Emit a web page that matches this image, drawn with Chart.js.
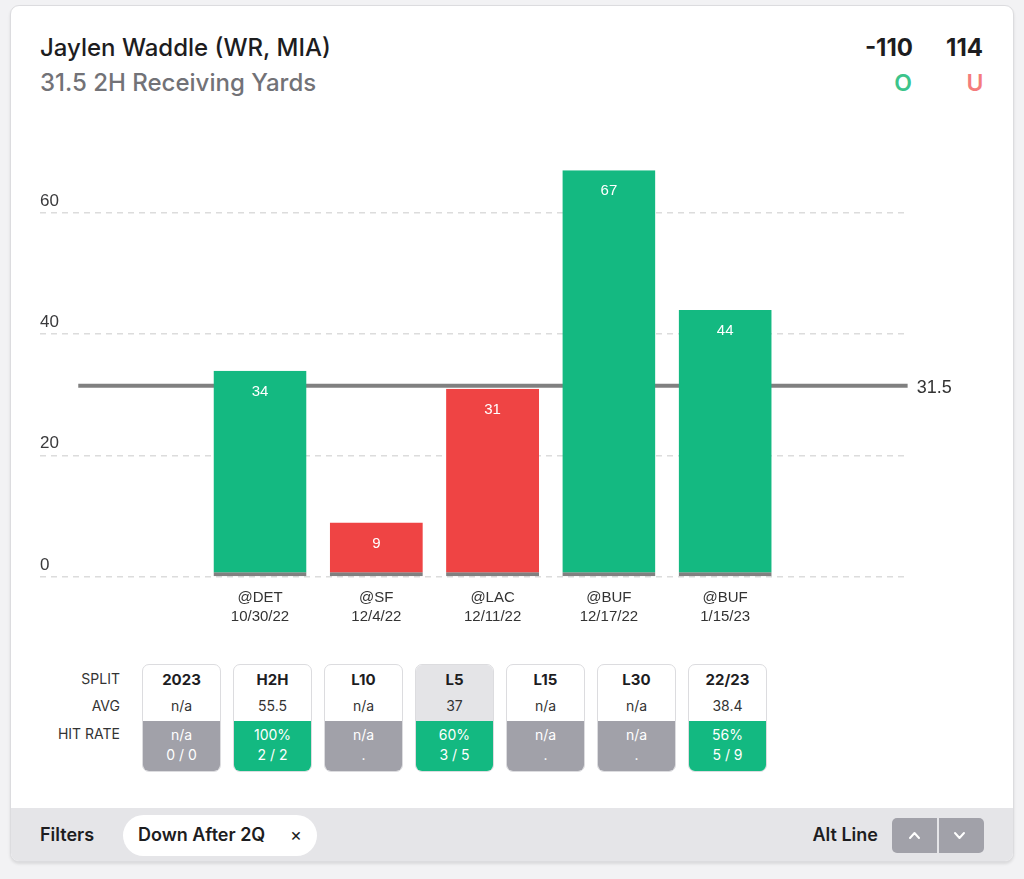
<!DOCTYPE html>
<html>
<head>
<meta charset="utf-8">
<script src="https://cdn.jsdelivr.net/npm/chart.js@4/dist/chart.umd.min.js"></script>
<style>
  html, body { margin: 0; padding: 0; }
  body { width: 1024px; height: 879px; background: #f2f2f4; position: relative; overflow: hidden; font-family: Inter, "Liberation Sans", sans-serif; color: #1d1d1f; }
  .card { position: absolute; left: 10px; top: 5px; width: 1004px; height: 857px; box-sizing: border-box; background: #fff; border: 1px solid #dcdcdf; border-radius: 9px; overflow: hidden; box-shadow: 0 2px 3px rgba(0,0,0,0.10); }
  .footer { position: absolute; left: 0; right: 0; top: 802px; bottom: 0; background: #e5e5e8; }
  .abs { position: absolute; white-space: nowrap; }
  .title { left: 40px; top: 33px; font-size: 24px; font-weight: 500; color: #1d1d1f; line-height: 30px; }
  .subtitle { left: 40px; top: 68px; font-size: 24px; font-weight: 500; color: #727277; line-height: 30px; }
  .odds { top: 33px; font-size: 24px; font-weight: 700; color: #1d1d1f; line-height: 30px; text-align: right; }
  .ou { top: 68px; font-size: 23px; font-weight: 600; line-height: 30px; text-align: center; width: 30px; }
  #chartWrap { position: absolute; left: 40px; top: 140px; width: 940px; height: 490px; }
  .rowlab { font-size: 14px; color: #333; text-align: right; right: 904px; line-height: 18px; }
  .box { position: absolute; top: 664px; width: 79px; height: 108px; box-sizing: border-box; border: 1px solid #dcdcdf; border-radius: 7px; overflow: hidden; background: #fff; }
  .box .top { position: absolute; left: 0; right: 0; top: 0; height: 56px; }
  .box .top.sel { background: #e4e4e7; }
  .box .hd { position: absolute; left: 0; right: 0; top: 6px; text-align: center; font-size: 15px; font-weight: 700; color: #1d1d1f; line-height: 18px; }
  .box .avg { position: absolute; left: 0; right: 0; top: 32px; text-align: center; font-size: 14px; color: #333; line-height: 18px; }
  .box .bot { position: absolute; left: 0; right: 0; top: 56px; bottom: 0; color: #fff; text-align: center; font-size: 14px; line-height: 20px; padding-top: 4px; box-sizing: border-box; }
  .gray { background: #a1a1a9; }
  .green { background: #13b981; }
  .flab { font-size: 18px; font-weight: 600; color: #1d1d1f; line-height: 22px; }
  .pill { position: absolute; left: 123px; top: 815px; width: 194px; height: 41px; background: #fff; border-radius: 21px; }
  .btns { position: absolute; left: 892px; top: 818px; width: 92px; height: 35px; background: #a1a1a9; border-radius: 5px; overflow: hidden; }
  .btns .div { position: absolute; left: 45px; top: 0; width: 2px; height: 35px; background: #e5e5e8; }
</style>
</head>
<body>
<div class="card"><div class="footer"></div></div>

<div class="abs title">Jaylen Waddle (WR, MIA)</div>
<div class="abs subtitle">31.5 2H Receiving Yards</div>
<div class="abs odds" style="right:111px;">-110</div>
<div class="abs odds" style="right:41px;">114</div>
<div class="abs ou" style="left:888px;color:#3cc48b;">O</div>
<div class="abs ou" style="left:960px;color:#f47c7c;">U</div>

<div id="chartWrap"><canvas id="chart"></canvas></div>

<div class="abs rowlab" style="top:670px;">SPLIT</div>
<div class="abs rowlab" style="top:697px;">AVG</div>
<div class="abs rowlab" style="top:725px;">HIT RATE</div>
<div id="boxes"></div>

<div class="abs flab" style="left:40px;top:824px;">Filters</div>
<div class="pill"></div>
<div class="abs flab" style="left:138px;top:824px;">Down After 2Q</div>
<div class="abs" style="left:290px;top:824px;font-size:18px;line-height:22px;color:#1d1d1f;">×</div>
<div class="abs flab" style="right:146px;top:824px;">Alt Line</div>
<div class="btns">
  <div class="div"></div>
  <svg width="92" height="35" style="position:absolute;left:0;top:0">
    <polyline points="18,20 22.5,15 27,20" fill="none" stroke="#fff" stroke-width="2" stroke-linecap="round" stroke-linejoin="round"/>
    <polyline points="63,15 67.5,20 72,15" fill="none" stroke="#fff" stroke-width="2" stroke-linecap="round" stroke-linejoin="round"/>
  </svg>
</div>

<script>
// ---- data ----
const categories = ['@DET', '@SF', '@LAC', '@BUF', '@BUF'];
const gameDates = ['10/30/22', '12/4/22', '12/11/22', '12/17/22', '1/15/23'];
const yards = [34, 9, 31, 67, 44];
const propLine = 31.5;
const yTickValues = [0, 20, 40, 60];

const splitNames = ['2023', 'H2H', 'L10', 'L5', 'L15', 'L30', '22/23'];
const splitAvg = ['n/a', '55.5', 'n/a', '37', 'n/a', 'n/a', '38.4'];
const splitHitPct = ['n/a', '100%', 'n/a', '60%', 'n/a', 'n/a', '56%'];
const splitHitCount = ['0 / 0', '2 / 2', '.', '3 / 5', '.', '.', '5 / 9'];
const selectedSplit = 'L5';

// ---- split boxes ----
const boxesEl = document.getElementById('boxes');
splitNames.forEach((name, i) => {
  const b = document.createElement('div');
  b.className = 'box';
  b.style.left = (142 + i * 91) + 'px';
  const hit = splitHitPct[i] !== 'n/a';
  b.innerHTML =
    '<div class="top' + (name === selectedSplit ? ' sel' : '') + '"></div>' +
    '<div class="hd">' + name + '</div>' +
    '<div class="avg">' + splitAvg[i] + '</div>' +
    '<div class="bot ' + (hit ? 'green' : 'gray') + '">' + splitHitPct[i] + '<br>' + splitHitCount[i] + '</div>';
  boxesEl.appendChild(b);
});

// ---- chart ----
const GREEN = '#14b981';
const RED = '#ef4444';
const barColors = yards.map(v => v > propLine ? GREEN : RED);

const propLinePlugin = {
  id: 'propLine',
  beforeDatasetsDraw(chart, args, opts) {
    const { ctx } = chart;
    const x = chart.scales.x, y = chart.scales.y;
    const py = y.getPixelForValue(propLine);
    const x0 = x.getPixelForValue(opts.from);
    const x1 = x.getPixelForValue(opts.to);
    ctx.save();
    ctx.strokeStyle = '#808080';
    ctx.lineWidth = 4;
    ctx.beginPath();
    ctx.moveTo(x0, py);
    ctx.lineTo(x1, py);
    ctx.stroke();
    ctx.fillStyle = '#333';
    ctx.font = '18px "Liberation Sans", Arial, sans-serif';
    ctx.textBaseline = 'middle';
    ctx.textAlign = 'left';
    ctx.fillText(String(propLine), x1 + 9, py + 2);
    ctx.restore();
  }
};

const valueLabelPlugin = {
  id: 'valueLabels',
  afterDatasetsDraw(chart) {
    const { ctx } = chart;
    const meta = chart.getDatasetMeta(0);
    ctx.save();
    ctx.fillStyle = '#fff';
    ctx.font = '15px "Liberation Sans", Arial, sans-serif';
    ctx.textAlign = 'center';
    ctx.textBaseline = 'middle';
    meta.data.forEach((bar, i) => {
      ctx.fillText(String(yards[i]), bar.x, bar.y + 21);
    });
    ctx.restore();
  }
};

new Chart(document.getElementById('chart'), {
  type: 'bar',
  data: {
    datasets: [{
      data: yards.map((v, i) => ({ x: i, y: v })),
      backgroundColor: barColors,
      borderColor: '#808080',
      borderWidth: { top: 0, left: 0, right: 0, bottom: 4 },
      borderSkipped: false,
      barPercentage: 0.8,
      categoryPercentage: 1
    }]
  },
  options: {
    responsive: true,
    maintainAspectRatio: false,
    animation: false,
    layout: { padding: { top: 0, right: 74, left: 0, bottom: 0 } },
    plugins: {
      legend: { display: false },
      tooltip: { enabled: false },
      propLine: { from: -1.563, to: 5.569 }
    },
    scales: {
      x: {
        type: 'linear',
        offset: false,
        min: -1.892,
        max: 5.555,
        grid: { display: false },
        border: { display: false },
        afterBuildTicks(scale) {
          scale.ticks = categories.map((_, i) => ({ value: i }));
        },
        afterFit(scale) {
          scale.height = 53;
          scale.paddingLeft = 0; scale.paddingRight = 0;
        },
        ticks: {
          autoSkip: false,
          maxRotation: 0,
          padding: 4,
          color: '#333',
          font: { family: '"Liberation Sans", Arial, sans-serif', size: 15, lineHeight: 1.22 },
          callback: (v) => [categories[v], gameDates[v]]
        }
      },
      y: {
        min: 0,
        max: 72,
        afterBuildTicks(scale) {
          scale.ticks = yTickValues.map(v => ({ value: v }));
        },
        afterFit(scale) {
          scale.width = 0;
          scale.paddingTop = 0; scale.paddingBottom = 0;
        },
        grid: { color: '#dcdcdc', lineWidth: 1.5, drawTicks: false },
        border: { display: false, dash: [6, 5] },
        ticks: {
          mirror: true,
          padding: 0,
          labelOffset: -12,
          color: '#3a3a3c',
          font: { family: '"Liberation Sans", Arial, sans-serif', size: 17 }
        }
      }
    }
  },
  plugins: [propLinePlugin, valueLabelPlugin]
});
</script>
</body>
</html>
